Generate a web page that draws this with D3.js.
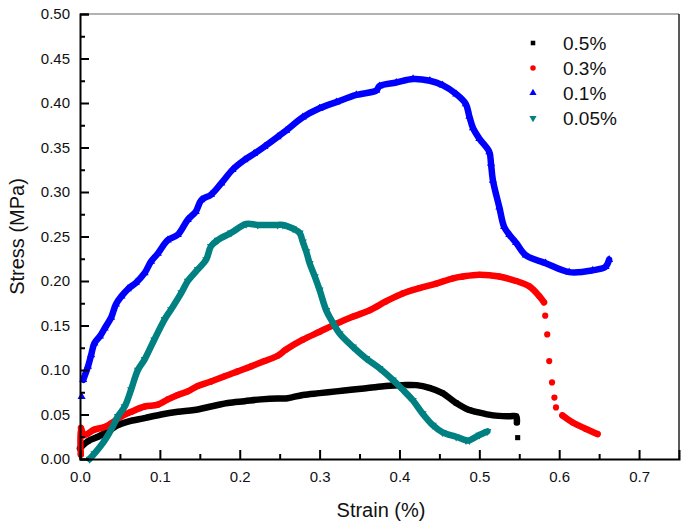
<!DOCTYPE html>
<html>
<head>
<meta charset="utf-8">
<script src="https://cdn.jsdelivr.net/npm/d3@7"></script>
<style>
  html, body { margin: 0; padding: 0; background: #ffffff; }
  svg { display: block; font-family: Arial, "Liberation Sans", sans-serif; }
</style>
</head>
<body>
<svg id="chart" width="685" height="526"></svg>
<script>
// ---------- data ----------
const seriesNames = ["0.5%", "0.3%", "0.1%", "0.05%"];

const strain05 = [0.000,0.002,0.010,0.0225,0.035,0.0475,0.060,0.081,0.1017,0.1225,0.143,0.164,0.185,0.206,0.227,0.2475,0.258,0.279,0.300,0.321,0.342,0.3625,0.383,0.404,0.421,0.4375,0.454,0.471,0.4875,0.496,0.517,0.5375,0.546,0.547,0.548];
const stress05 = [0.012,0.014,0.020,0.025,0.031,0.038,0.042,0.046,0.050,0.053,0.055,0.059,0.063,0.065,0.067,0.068,0.068,0.072,0.074,0.076,0.078,0.080,0.082,0.083,0.083,0.080,0.074,0.063,0.055,0.053,0.049,0.048,0.048,0.041,0.024];
const breaks05 = [34];

const strain03 = [0.001,0.001,0.005,0.018,0.031,0.039,0.052,0.064,0.081,0.0975,0.110,0.1225,0.135,0.1475,0.164,0.181,0.1975,0.214,0.231,0.2475,0.258,0.279,0.300,0.321,0.342,0.3625,0.383,0.404,0.425,0.446,0.467,0.479,0.500,0.525,0.546,0.5625,0.575,0.581,0.5825,0.585,0.5875,0.591,0.594,0.596,0.604,0.617,0.633,0.648];
const stress03 = [0.005,0.035,0.027,0.033,0.036,0.040,0.048,0.053,0.059,0.061,0.067,0.072,0.076,0.082,0.087,0.093,0.0985,0.104,0.110,0.116,0.123,0.134,0.143,0.152,0.160,0.167,0.177,0.186,0.192,0.197,0.203,0.205,0.207,0.205,0.200,0.194,0.183,0.176,0.161,0.140,0.110,0.086,0.069,0.058,0.049,0.041,0.034,0.028];
const breaks03 = [38,39,40,41,42,43,44];

const strain01 = [0.002,0.004,0.010,0.014,0.018,0.025,0.031,0.039,0.045,0.052,0.060,0.070,0.081,0.089,0.0975,0.110,0.1225,0.135,0.145,0.152,0.164,0.177,0.191,0.206,0.218,0.231,0.2475,0.258,0.279,0.300,0.321,0.346,0.371,0.375,0.396,0.417,0.438,0.454,0.471,0.483,0.4875,0.492,0.500,0.5125,0.5146,0.517,0.525,0.531,0.5375,0.546,0.558,0.583,0.6125,0.642,0.658,0.6625];
const stress01 = [0.070,0.089,0.104,0.117,0.130,0.138,0.147,0.159,0.174,0.183,0.191,0.198,0.209,0.222,0.231,0.246,0.252,0.269,0.278,0.291,0.297,0.310,0.325,0.336,0.343,0.351,0.362,0.369,0.384,0.394,0.401,0.409,0.414,0.419,0.423,0.427,0.425,0.420,0.410,0.399,0.385,0.372,0.360,0.345,0.332,0.313,0.283,0.261,0.252,0.243,0.229,0.220,0.210,0.212,0.216,0.224];
const breaks01 = [1];

const strain005 = [0.012,0.018,0.031,0.039,0.0475,0.056,0.064,0.0725,0.081,0.093,0.106,0.114,0.127,0.135,0.1475,0.158,0.164,0.1725,0.189,0.208,0.2225,0.2475,0.254,0.2667,0.275,0.279,0.2833,0.2875,0.294,0.300,0.3083,0.3167,0.325,0.3417,0.3583,0.375,0.3917,0.404,0.4167,0.429,0.4417,0.454,0.471,0.4833,0.4875,0.500,0.510];
const stress005 = [0.000,0.006,0.021,0.033,0.048,0.059,0.078,0.100,0.112,0.134,0.157,0.168,0.187,0.200,0.213,0.224,0.239,0.246,0.254,0.264,0.263,0.263,0.263,0.259,0.254,0.244,0.233,0.220,0.205,0.190,0.167,0.153,0.141,0.126,0.113,0.102,0.089,0.078,0.066,0.051,0.038,0.030,0.025,0.021,0.021,0.027,0.031];
const breaks005 = [];

const xMajorTicks = [0.0,0.1,0.2,0.3,0.4,0.5,0.6,0.7];
const xMinorTicks = [0.05,0.15,0.25,0.35,0.45,0.55,0.65];
const yMajorTicks = [0.00,0.05,0.10,0.15,0.20,0.25,0.30,0.35,0.40,0.45,0.50];
const yMinorTicks = [0.025,0.075,0.125,0.175,0.225,0.275,0.325,0.375,0.425,0.475];

// ---------- drawing ----------
const svg = d3.select("#chart");
const mLeft = 80, mRight = 679, mTop = 14, mBottom = 459;
const x = d3.scaleLinear().domain([0, 0.75]).range([mLeft, mRight]);
const y = d3.scaleLinear().domain([0, 0.5]).range([mBottom, mTop]);

svg.append("rect").attr("width", 685).attr("height", 526).attr("fill", "#ffffff");

const series = [
  {name: seriesNames[0], xs: strain05, ys: stress05, br: breaks05, color: "#000000", sym: d3.symbolSquare, size: 26, rot: 0},
  {name: seriesNames[1], xs: strain03, ys: stress03, br: breaks03, color: "#ff0000", sym: d3.symbolCircle, size: 30, rot: 0},
  {name: seriesNames[2], xs: strain01, ys: stress01, br: breaks01, color: "#0000ff", sym: d3.symbolTriangle, size: 28, rot: 0},
  {name: seriesNames[3], xs: strain005, ys: stress005, br: breaks005, color: "#008080", sym: d3.symbolTriangle, size: 28, rot: 180}
];

const line = d3.line().x(d => x(d[0])).y(d => y(d[1])).curve(d3.curveCatmullRom.alpha(0.5));
const plot = svg.append("g");

series.forEach(s => {
  const pts = s.xs.map((v, i) => [v, s.ys[i]]);
  const starts = [0, ...s.br, pts.length];
  const segs = [];
  for (let i = 0; i < starts.length - 1; i++) segs.push(pts.slice(starts[i], starts[i + 1]));
  const g = plot.append("g");
  g.selectAll("path.seg").data(segs.filter(d => d.length > 1)).join("path")
    .attr("class", "seg")
    .attr("d", line)
    .attr("fill", "none")
    .attr("stroke", s.color)
    .attr("stroke-width", 6.5)
    .attr("stroke-linejoin", "round")
    .attr("stroke-linecap", "round");
  g.selectAll("path.pt").data(pts).join("path")
    .attr("class", "pt")
    .attr("d", d3.symbol().type(s.sym).size(s.size))
    .attr("transform", d => `translate(${x(d[0])},${y(d[1])}) rotate(${s.rot})`)
    .attr("fill", s.color);
});

// frame
svg.append("line").attr("x1", mLeft).attr("x2", mRight).attr("y1", mTop).attr("y2", mTop)
  .attr("stroke", "#666").attr("stroke-width", 1.2);
svg.append("line").attr("x1", mRight).attr("x2", mRight).attr("y1", mTop).attr("y2", mBottom)
  .attr("stroke", "#222").attr("stroke-width", 1.5);

// axes
const fmtY = d3.format(".2f"), fmtX = d3.format(".1f");
const yAx = svg.append("g").attr("transform", `translate(${mLeft},0)`)
  .call(d3.axisLeft(y).tickValues(yMajorTicks).tickSize(-9).tickPadding(10).tickFormat(fmtY));
const yAxMin = svg.append("g").attr("transform", `translate(${mLeft},0)`)
  .call(d3.axisLeft(y).tickValues(yMinorTicks).tickSize(-5).tickFormat(""));
const xAx = svg.append("g").attr("transform", `translate(0,${mBottom})`)
  .call(d3.axisBottom(x).tickValues(xMajorTicks).tickSize(-9).tickPadding(12).tickFormat(fmtX));
const xAxMin = svg.append("g").attr("transform", `translate(0,${mBottom})`)
  .call(d3.axisBottom(x).tickValues(xMinorTicks).tickSize(-5).tickFormat(""));

[yAx, yAxMin, xAx, xAxMin].forEach(a => {
  a.selectAll(".domain").attr("stroke", "#000").attr("stroke-width", 2);
  a.selectAll(".tick line").attr("stroke", "#000").attr("stroke-width", 2);
  a.selectAll("text").attr("font-size", 15).attr("fill", "#111")
    .attr("font-family", 'Arial, "Liberation Sans", sans-serif');
});
yAxMin.select(".domain").remove();
xAxMin.select(".domain").remove();

// axis titles
svg.append("text").attr("x", 381).attr("y", 517).attr("text-anchor", "middle")
  .attr("font-size", 20).attr("fill", "#111").text("Strain (%)");
svg.append("text").attr("transform", `translate(24,${(mTop + mBottom) / 2}) rotate(-90)`)
  .attr("text-anchor", "middle").attr("font-size", 20).attr("fill", "#111").text("Stress (MPa)");

// legend
const leg = svg.append("g");
series.forEach((s, i) => {
  const by = 50 + i * 25;
  leg.append("path")
    .attr("d", d3.symbol().type(s.sym).size(s.size * 0.8))
    .attr("transform", `translate(533,${by - 7}) rotate(${s.rot})`)
    .attr("fill", s.color);
  leg.append("text").attr("x", 563).attr("y", by).attr("font-size", 19).attr("fill", "#111").text(s.name);
});
</script>
</body>
</html>
